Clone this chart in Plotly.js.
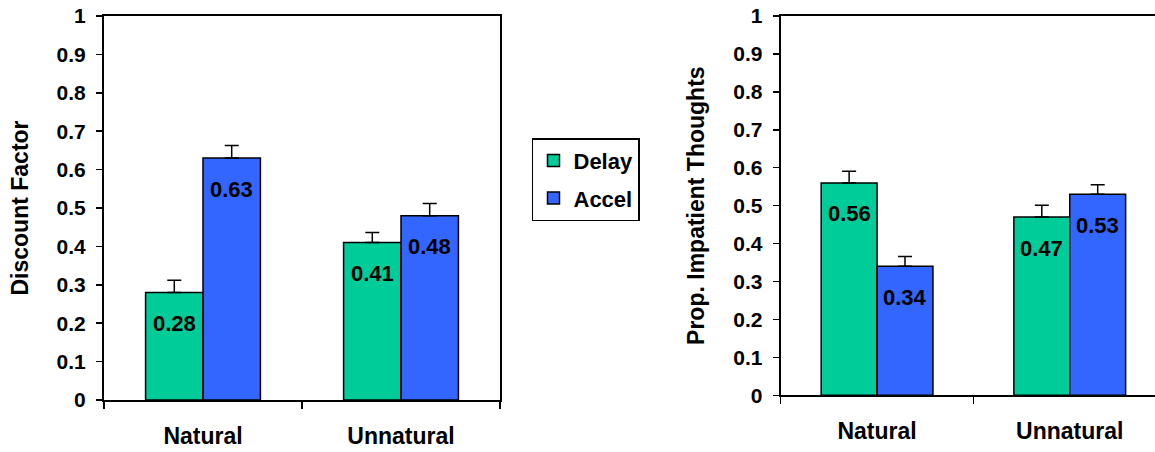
<!DOCTYPE html>
<html>
<head>
<meta charset="utf-8">
<script src="https://cdn.plot.ly/plotly-3.0.1.min.js"></script>
<style>html,body{margin:0;padding:0;background:#fff;}#chart{width:1155px;height:452px;}</style>
</head>
<body>
<div id="chart"></div>
<script>
const categories = ["Natural", "Unnatural"];
const seriesNames = ["Delay", "Accel"];
const discountDelay = [0.28, 0.41];
const discountAccel = [0.63, 0.48];
const discountDelayErr = [0.032, 0.026];
const discountAccelErr = [0.033, 0.032];
const thoughtsDelay = [0.56, 0.47];
const thoughtsAccel = [0.34, 0.53];
const thoughtsDelayErr = [0.031, 0.031];
const thoughtsAccelErr = [0.026, 0.025];
const yTicks = [0, 0.1, 0.2, 0.3, 0.4, 0.5, 0.6, 0.7, 0.8, 0.9, 1];
const yTickText = ["0", "0.1", "0.2", "0.3", "0.4", "0.5", "0.6", "0.7", "0.8", "0.9", "1"];

const colors = ["#00CC99", "#3366FF"];
const FONT = "Arial, 'Liberation Sans', sans-serif";
const bargap = 0.42;

function barTrace(name, y, err, idx, xa, ya, show) {
  return {
    type: "bar", name: name, x: categories, y: y,
    xaxis: xa, yaxis: ya, showlegend: show, legendgroup: name,
    marker: {color: colors[idx], line: {color: "#000", width: 1.5}},
    error_y: {type: "data", symmetric: false, array: err,
              arrayminus: err.map(() => 0), color: "#000", thickness: 1.5, width: 7},
    hoverinfo: "skip"
  };
}

const data = [
  barTrace(seriesNames[0], discountDelay, discountDelayErr, 0, "x", "y", true),
  barTrace(seriesNames[1], discountAccel, discountAccelErr, 1, "x", "y", true),
  barTrace(seriesNames[0], thoughtsDelay, thoughtsDelayErr, 0, "x2", "y2", false),
  barTrace(seriesNames[1], thoughtsAccel, thoughtsAccelErr, 1, "x2", "y2", false)
];

const off = (1 - bargap) / 4;
const annotations = [];
function addLabels(vals, sign, xr, yr) {
  vals.forEach((v, i) => {
    annotations.push({
      x: i + sign * off, y: v, xref: xr, yref: yr,
      text: "<b>" + v.toFixed(2) + "</b>", showarrow: false,
      yanchor: "middle", yshift: -31,
      font: {family: FONT, size: 22, color: "#000"}
    });
  });
}
addLabels(discountDelay, -1, "x", "y");
addLabels(discountAccel, 1, "x", "y");
addLabels(thoughtsDelay, -1, "x2", "y2");
addLabels(thoughtsAccel, 1, "x2", "y2");

const tickFont = {family: FONT, size: 21, color: "#000", weight: "bold"};
const catFont = {family: FONT, size: 23, color: "#000", weight: "bold"};

function xAxis(domain, range, anchor, mirror) {
  return {
    domain: domain, range: range, anchor: anchor, type: "category",
    showline: true, linecolor: "#000", linewidth: 2, mirror: mirror,
    ticks: "outside", tickson: "boundaries", ticklen: 7, tickwidth: 1.5, tickcolor: "#000",
    tickfont: catFont, ticklabelstandoff: 14, showgrid: false, zeroline: false, fixedrange: true
  };
}
function yAxis(domain, anchor, title, mirror) {
  return {
    domain: domain, range: [0, 1], anchor: anchor,
    tickvals: yTicks, ticktext: yTickText,
    showline: true, linecolor: "#000", linewidth: 2, mirror: mirror,
    ticks: "outside", ticklen: 6, tickwidth: 1.5, tickcolor: "#000",
    tickfont: tickFont, ticklabelstandoff: 6,
    showgrid: false, zeroline: false, fixedrange: true,
    title: {text: title, font: {family: FONT, size: 23, color: "#000", weight: "bold"}, standoff: 22}
  };
}

const layout = {
  width: 1155, height: 452,
  margin: {l: 0, r: 0, t: 16, b: 52},
  paper_bgcolor: "#fff", plot_bgcolor: "#fff",
  barmode: "group", bargap: bargap, bargroupgap: 0,
  showlegend: true,
  legend: {
    x: 0.4606, xanchor: "left", y: 0.682, yanchor: "top",
    bordercolor: "#000", borderwidth: 1.5, bgcolor: "#fff",
    font: {family: FONT, size: 22, color: "#000", weight: "bold"},
    tracegroupgap: 6, itemwidth: 30
  },
  xaxis: xAxis([104 / 1155, 500 / 1155], [-0.5, 1.5], "y", true),
  yaxis: yAxis([0, 1], "x", "Discount Factor", true),
  xaxis2: xAxis([780.7 / 1155, 1], [-0.5, -0.5 + 374.3 / 192.7], "y2", true),
  yaxis2: yAxis([4.7 / 384, 1], "x2", "Prop. Impatient Thoughts", false),
  annotations: annotations
};

Plotly.newPlot("chart", data, layout, {staticPlot: true, displayModeBar: false});
</script>
</body>
</html>
